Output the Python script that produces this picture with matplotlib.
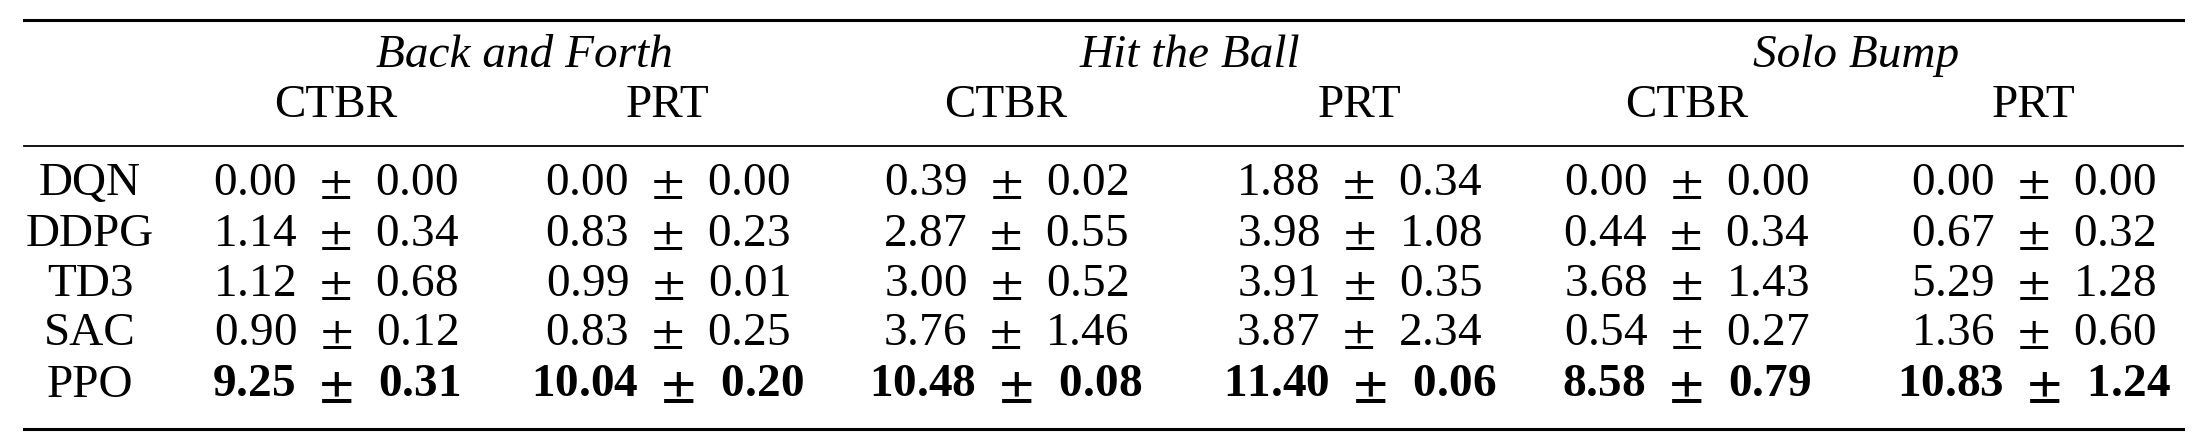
import matplotlib
matplotlib.use("Agg")
import matplotlib.pyplot as plt

tasks = ["Back and Forth", "Hit the Ball", "Solo Bump"]
controls = ["CTBR", "PRT"]
algos = ["DQN", "DDPG", "TD3", "SAC", "PPO"]

means = [
    [0.00, 0.00, 0.39, 1.88, 0.00, 0.00],
    [1.14, 0.83, 2.87, 3.98, 0.44, 0.67],
    [1.12, 0.99, 3.00, 3.91, 3.68, 5.29],
    [0.90, 0.83, 3.76, 3.87, 0.54, 1.36],
    [9.25, 10.04, 10.48, 11.40, 8.58, 10.83],
]
stds = [
    [0.00, 0.00, 0.02, 0.34, 0.00, 0.00],
    [0.34, 0.23, 0.55, 1.08, 0.34, 0.32],
    [0.68, 0.01, 0.52, 0.35, 1.43, 1.28],
    [0.12, 0.25, 1.46, 2.34, 0.27, 0.60],
    [0.31, 0.20, 0.08, 0.06, 0.79, 1.24],
]
best_row = "PPO"

plt.rcParams["font.family"] = ["Liberation Serif", "DejaVu Serif"]
plt.rcParams["mathtext.fontset"] = "stix"
FS = 34

fig = plt.figure(figsize=(21.96, 4.48), dpi=100)
ax = fig.add_axes([0, 0, 1, 1])
ax.set_xlim(0, 1)
ax.set_ylim(1, 0)
ax.axis("off")

col_x = [0.153, 0.304, 0.458, 0.619, 0.768, 0.926]
task_x = [0.239, 0.542, 0.845]
row_y = [0.41, 0.525, 0.635, 0.745, 0.86]

# rules
ax.plot([0.011, 0.994], [0.044, 0.044], color="black", lw=2.2)
ax.plot([0.011, 0.994], [0.325, 0.325], color="black", lw=1.3)
ax.plot([0.011, 0.994], [0.958, 0.958], color="black", lw=2.2)

for t, x in zip(tasks, task_x):
    ax.text(x, 0.125, t, fontsize=FS, style="italic", ha="center", va="center")
for i, x in enumerate(col_x):
    ax.text(x, 0.235, controls[i % 2], fontsize=FS, ha="center", va="center")

for r, (name, y) in enumerate(zip(algos, row_y)):
    bold = name == best_row
    ax.text(0.041, y, name, fontsize=FS, ha="center", va="center")
    for c, x in enumerate(col_x):
        pm = r"$\mathbf{\pm}$" if bold else r"$\pm$"
        ax.text(x, y, f"{means[r][c]:.2f}  {pm}  {stds[r][c]:.2f}", fontsize=FS,
                ha="center", va="center", fontweight="bold" if bold else "normal")

fig.savefig("out.png", dpi=100)
